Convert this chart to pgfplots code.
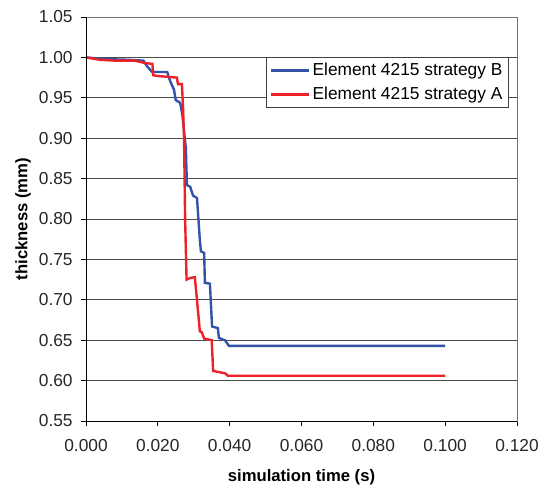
\documentclass[border=0pt]{standalone}
\usepackage{pgfplots}
\pgfplotsset{compat=1.18}
\usepackage{fontspec}
\setmainfont{Liberation Sans}
\definecolor{lineB}{RGB}{52,82,168}
\definecolor{lineA}{RGB}{238,32,40}
\begin{document}
\begin{tikzpicture}[x=1pt,y=1pt]
\begin{axis}[
  at={(0,0)}, anchor=south west,
  scale only axis, width=323.25pt, height=303pt,
  xmin=0, xmax=0.12, ymin=0.55, ymax=1.05,
  xtick={0,0.02,...,0.12}, ytick={0.55,0.60,...,1.05},
  xtick pos=left, ytick pos=left, tick align=outside,
  major tick length=4pt,
  tick style={black, line width=0.6pt},
  ymajorgrids, major grid style={black!70, line width=0.6pt},
  axis line style={black!55, line width=0.6pt},
  /pgf/number format/assume math mode=true,
  xticklabel style={yshift=-6pt, /pgf/number format/.cd, fixed, fixed zerofill, precision=3},
  yticklabel style={xshift=-2.5pt, /pgf/number format/.cd, fixed, fixed zerofill, precision=2},
  scaled x ticks=false,
  every tick label/.append style={font=\fontsize{13}{15}\selectfont, black!85},
  xlabel={\textbf{simulation time (s)}},
  ylabel={\textbf{thickness (mm)}},
  xlabel style={at={(axis description cs:0.5,-0.139)}, anchor=center, font=\fontsize{12.5}{15}\selectfont},
  ylabel style={at={(axis description cs:-0.146,0.5)}, anchor=center, font=\fontsize{12.5}{15}\selectfont},
  legend style={at={(axis description cs:0.981,0.901)}, anchor=north east,
    draw=black!75, line width=0.6pt, font=\fontsize{13}{15}\selectfont,
    row sep=3pt, inner sep=2.5pt},
  legend cell align=left,
  legend image code/.code={\draw[#1, line width=1.8pt] (0pt,0pt) -- (28pt,0pt);},
]
\addplot[lineB, line width=1.8pt] coordinates {
(0,1.000)(0.005,0.998)(0.012,0.997)(0.016,0.996)(0.0170,0.989)(0.0184,0.982)
(0.0226,0.982)(0.0234,0.971)(0.0245,0.960)(0.0250,0.947)(0.0262,0.944)
(0.0268,0.930)(0.0275,0.900)(0.0278,0.888)(0.0281,0.842)(0.0290,0.840)
(0.0298,0.829)(0.0309,0.826)(0.0317,0.774)(0.0320,0.760)(0.0329,0.758)
(0.0331,0.721)(0.0345,0.720)(0.0351,0.667)(0.0367,0.665)(0.0370,0.653)
(0.0379,0.651)(0.0387,0.650)(0.0398,0.643)(0.100,0.643)
};
\addlegendentry{Element 4215 strategy B}
\addplot[lineA, line width=1.8pt] coordinates {
(0,1.000)(0.004,0.997)(0.008,0.996)(0.0136,0.996)(0.0164,0.993)(0.0185,0.992)
(0.0187,0.978)(0.020,0.977)(0.0253,0.975)(0.0256,0.967)(0.0267,0.967)
(0.0270,0.940)(0.0273,0.900)(0.0276,0.800)(0.0280,0.725)(0.0290,0.727)
(0.0303,0.728)(0.0309,0.700)(0.0317,0.661)(0.0322,0.660)(0.0329,0.652)
(0.0350,0.650)(0.0354,0.612)(0.0365,0.611)(0.0387,0.609)(0.0395,0.606)
(0.100,0.606)
};
\addlegendentry{Element 4215 strategy A}
\draw[black, line width=0.6pt] (rel axis cs:0,1) -- (rel axis cs:0,0) -- (rel axis cs:1,0);
\end{axis}
\path (-64.5,-48.75) rectangle (343.5,315.75);
\end{tikzpicture}
\end{document}
